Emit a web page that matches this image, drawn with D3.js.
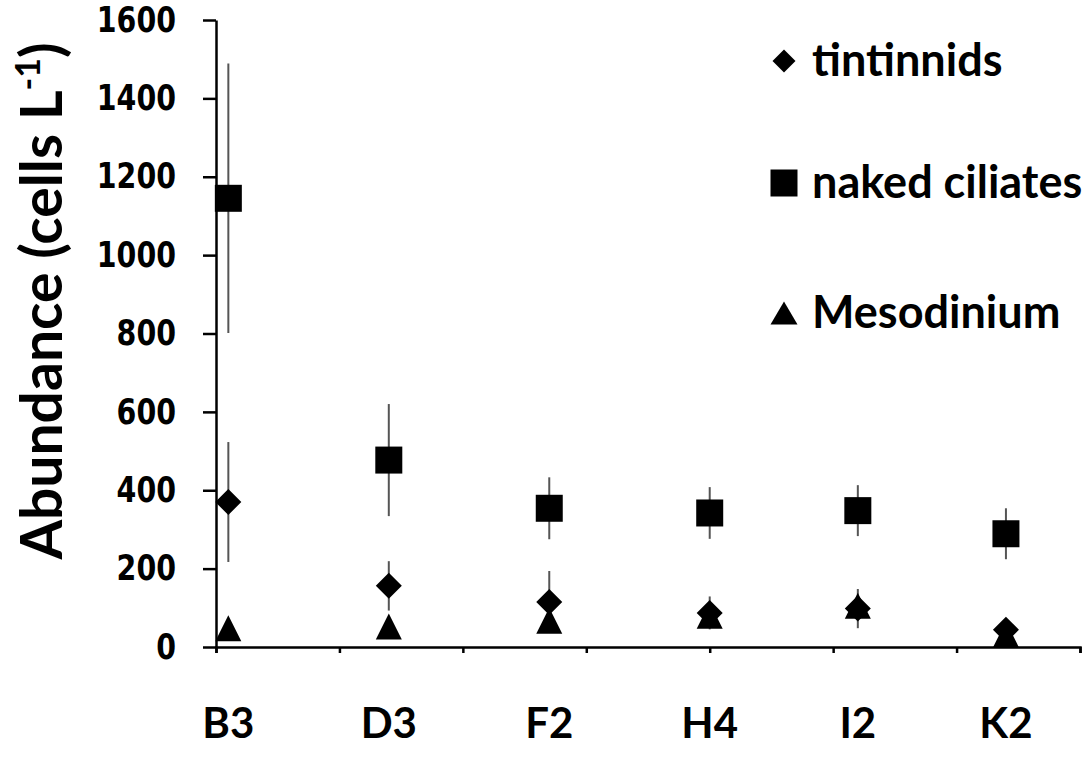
<!DOCTYPE html>
<html>
<head>
<meta charset="utf-8">
<script src="https://cdn.jsdelivr.net/npm/d3@7"></script>
<style>
  body { margin: 0; background: #fff; }
  text { fill: #000; }
</style>
</head>
<body>
<div id="chart"></div>
<script>
// sites along the transect and their position on the (unlabelled) x axis
var sites = ["B3", "D3", "F2", "H4", "I2", "K2"];
var xPos = [0.1, 1.4, 2.7, 4.0, 5.2, 6.4];

var tintinnids = [370, 156, 115, 87, 98, 44];
var tintinnidsErr = [153, 63, 79, 42, 50, 20];
var nakedCiliates = [1145, 477, 354, 342, 348, 289];
var nakedCiliatesErr = [344, 143, 79, 66, 65, 65];
var mesodinium = [48, 52, 67, 80, 105, 32];
var mesodiniumErr = [10, 15, 15, 20, 25, 10];

var yTicks = [0, 200, 400, 600, 800, 1000, 1200, 1400, 1600];
var xTicks = [0, 1, 2, 3, 4, 5, 6, 7];

var width = 1088;
var height = 757;
var margin = { top: 20, right: 8, bottom: 110, left: 216 };

var svg = d3
  .select("#chart")
  .append("svg")
  .attr("width", width)
  .attr("height", height);

var x = d3
  .scaleLinear()
  .domain([0, 7])
  .range([margin.left, width - margin.right]);

var y = d3
  .scaleLinear()
  .domain([0, 1600])
  .range([height - margin.bottom, margin.top]);

// excel-like marker shapes
function diamond(s) {
  var h = s / 2;
  return "M0," + -h + "L" + h + ",0L0," + h + "L" + -h + ",0Z";
}
function square(s) {
  var h = s / 2;
  return "M" + -h + "," + -h + "H" + h + "V" + h + "H" + -h + "Z";
}
function triangle(w, t) {
  var h = t / 2;
  return "M0," + -h + "L" + w / 2 + "," + h + "L" + -w / 2 + "," + h + "Z";
}

var series = [
  { name: "tintinnids", values: tintinnids, err: tintinnidsErr, shape: diamond(26), legend: diamond(23) },
  { name: "naked ciliates", values: nakedCiliates, err: nakedCiliatesErr, shape: square(27), legend: square(27) },
  { name: "Mesodinium", values: mesodinium, err: mesodiniumErr, shape: triangle(26, 26), legend: triangle(27, 23) }
];

// axes
svg
  .append("g")
  .attr("transform", "translate(0," + y(0) + ")")
  .call(d3.axisBottom(x).tickValues(xTicks).tickSize(6).tickFormat(""))
  .call((g) => g.selectAll("path, line").attr("stroke", "#000").attr("stroke-width", 2.5));

svg
  .append("g")
  .attr("transform", "translate(" + x(0) + ",0)")
  .call(
    d3
      .axisLeft(y)
      .tickValues(yTicks)
      .tickSize(13)
      .tickSizeOuter(0)
      .tickPadding(27)
      .tickFormat(d3.format("d"))
  )
  .call((g) => g.selectAll("path, line").attr("stroke", "#000").attr("stroke-width", 2.5))
  .call((g) =>
    g
      .selectAll("text")
      .attr("font-family", "DejaVu Sans")
      .attr("font-weight", "bold")
      .attr("font-size", "35px")
      .attr("lengthAdjust", "spacingAndGlyphs")
      .attr("textLength", (d) => String(d).length * 19.8)
  );

// error bars
series.forEach(function (s) {
  svg
    .append("g")
    .selectAll("line")
    .data(s.values)
    .enter()
    .append("line")
    .attr("x1", (d, i) => x(xPos[i]))
    .attr("x2", (d, i) => x(xPos[i]))
    .attr("y1", (d, i) => y(d + s.err[i]))
    .attr("y2", (d, i) => y(d - s.err[i]))
    .attr("stroke", "#555")
    .attr("stroke-width", 2);
});

// markers
series.forEach(function (s) {
  svg
    .append("g")
    .selectAll("path")
    .data(s.values)
    .enter()
    .append("path")
    .attr("d", s.shape)
    .attr("transform", (d, i) => "translate(" + x(xPos[i]) + "," + y(d) + ")")
    .attr("fill", "#000");
});

// site labels under the axis
svg
  .append("g")
  .selectAll("text")
  .data(sites)
  .enter()
  .append("text")
  .attr("x", (d, i) => x(xPos[i]))
  .attr("y", 738)
  .attr("text-anchor", "middle")
  .attr("font-family", "Lato")
  .attr("font-weight", "bold")
  .attr("font-size", "42px")
  .text((d) => d);

// y title
var title = svg
  .append("text")
  .attr("transform", "translate(62,301) rotate(-90)")
  .attr("text-anchor", "middle")
  .attr("font-family", "Lato")
  .attr("font-weight", "bold")
  .attr("font-size", "57px");
title.append("tspan").text("Abundance (cells L");
title.append("tspan").attr("font-size", "34px").attr("dy", "-22").text("-1");
title.append("tspan").attr("dy", "22").text(")");

// legend
var legendY = [61, 183, 313];
var legend = svg
  .selectAll(".legend")
  .data(series)
  .enter()
  .append("g")
  .attr("class", "legend")
  .attr("transform", (d, i) => "translate(784," + legendY[i] + ")");

legend
  .append("path")
  .attr("d", (d) => d.legend)
  .attr("fill", "#000");

legend
  .append("text")
  .attr("x", 28)
  .attr("y", 15)
  .attr("font-family", "Lato")
  .attr("font-weight", "bold")
  .attr("font-size", "45px")
  .text((d) => d.name);
</script>
</body>
</html>
